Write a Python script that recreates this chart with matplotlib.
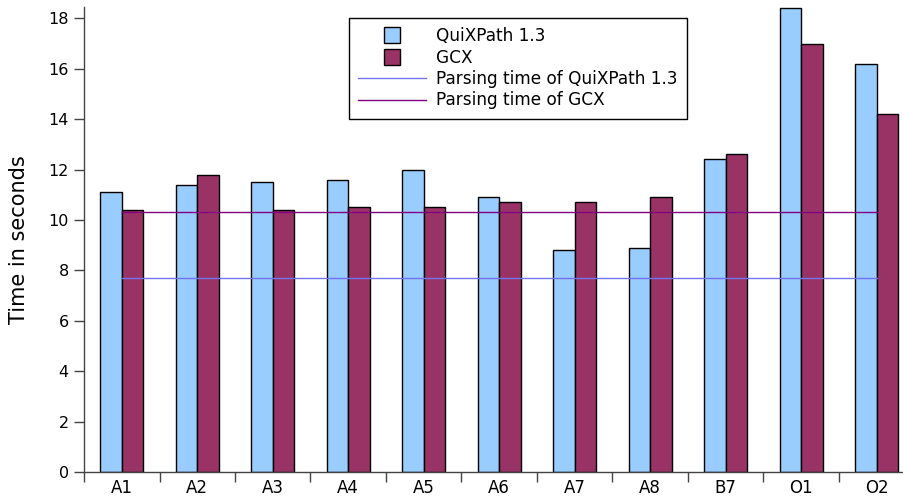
import numpy as np
import matplotlib
matplotlib.use("Agg")
import matplotlib.pyplot as plt
from matplotlib.lines import Line2D

# queries and timings (seconds)
queries = ["A1", "A2", "A3", "A4", "A5", "A6", "A7", "A8", "B7", "O1", "O2"]
quixpath = [11.1, 11.4, 11.5, 11.6, 12.0, 10.9, 8.8, 8.9, 12.4, 18.4, 16.2]
gcx = [10.4, 11.8, 10.4, 10.5, 10.5, 10.7, 10.7, 10.9, 12.6, 17.0, 14.2]
parse_quixpath = 7.7
parse_gcx = 10.3

c_quix = "#99ccff"
c_gcx = "#993366"
c_parse_quix = "#7474ea"
c_parse_gcx = "#800080"

fig = plt.figure(figsize=(9.04, 4.98), dpi=100)
ax = fig.add_axes([84 / 904, 26 / 498, 820 / 904, 465 / 498])

centers = np.arange(len(queries)) + 0.5
w = 0.285
ax.bar(centers - w, quixpath, width=w, align="edge", color=c_quix,
       edgecolor="black", linewidth=1.0, zorder=2)
ax.bar(centers, gcx, width=w, align="edge", color=c_gcx,
       edgecolor="black", linewidth=1.0, zorder=2)

# parsing time reference lines, from first to last group centre
ax.plot([centers[0], centers[-1]], [parse_quixpath] * 2, color=c_parse_quix,
        linewidth=1.0, zorder=3)
ax.plot([centers[0], centers[-1]], [parse_gcx] * 2, color=c_parse_gcx,
        linewidth=1.0, zorder=3)

ax.set_xlim(0, 820 / 75.5)
ax.set_ylim(0, 18.45)

for s in ["top", "right"]:
    ax.spines[s].set_visible(False)
for s in ["left", "bottom"]:
    ax.spines[s].set_color("#444444")
    ax.spines[s].set_linewidth(1.0)

ax.set_yticks(np.arange(0, 19, 2))
ax.set_xticks(np.arange(0, 11))
ax.set_xticklabels([])
ax.set_xticks(centers, minor=True)
ax.set_xticklabels(queries, minor=True)
ax.tick_params(axis="x", which="major", direction="out", length=7, width=1.0,
               color="#444444")
ax.tick_params(axis="x", which="minor", length=0, pad=5, labelsize=12)
ax.tick_params(axis="y", direction="out", length=7, width=1.0,
               color="#444444", labelsize=11.5, pad=4)
ax.set_ylabel("Time in seconds", fontsize=15)
ax.yaxis.set_label_coords(-55 / 820, 0.5)

handles = [
    Line2D([], [], marker="s", markersize=12, markerfacecolor=c_quix,
           markeredgecolor="black", markeredgewidth=1.0, linestyle="none"),
    Line2D([], [], marker="s", markersize=12, markerfacecolor=c_gcx,
           markeredgecolor="black", markeredgewidth=1.0, linestyle="none"),
    Line2D([], [], color=c_parse_quix, linewidth=1.0),
    Line2D([], [], color=c_parse_gcx, linewidth=1.0),
]
labels = ["QuiXPath 1.3", "GCX", "Parsing time of QuiXPath 1.3",
          "Parsing time of GCX"]
leg = fig.legend(handles, labels, loc="upper left",
                 bbox_to_anchor=(349 / 904, 1 - 18 / 498), borderaxespad=0,
                 fontsize=12.2, frameon=True, fancybox=False, framealpha=1,
                 edgecolor="black", handlelength=4.0, handletextpad=0.6,
                 borderpad=0.55, labelspacing=0.2)
leg.get_frame().set_linewidth(1.0)

fig.savefig("out.png", dpi=100)
